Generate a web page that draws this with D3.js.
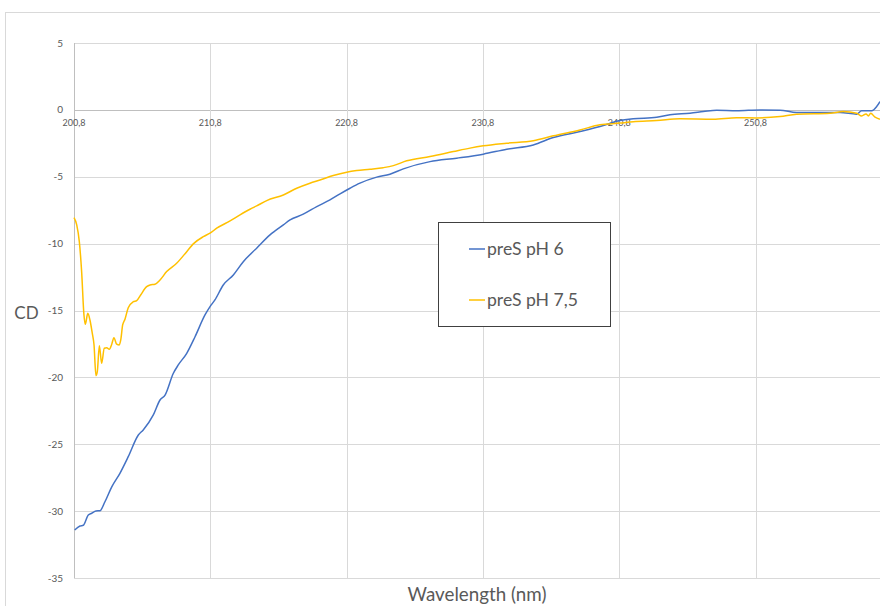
<!DOCTYPE html>
<html>
<head>
<meta charset="utf-8">
<script src="https://cdn.jsdelivr.net/npm/d3@7"></script>
<style>
  html, body { margin: 0; padding: 0; background: #fff; }
  svg { display: block; }
  text { font-family: Lato, "Open Sans", sans-serif; fill: #595959; }
</style>
</head>
<body>
<svg id="chart" width="880" height="606"></svg>
<script>
// ---- Data ----
const seriesNames = ["preS pH 6", "preS pH 7,5"];
const seriesColors = ["#4472C4", "#FFC000"];

const xTickValues = [200.8, 210.8, 220.8, 230.8, 240.8, 250.8, 260.8];
const xTickLabels = ["200,8", "210,8", "220,8", "230,8", "240,8", "250,8", "260,8"];
const yTickValues = [5, 0, -5, -10, -15, -20, -25, -30, -35];

// preS pH 6 : wavelength (nm)
const wl6 = [200.85, 201.24, 201.48, 201.85, 202.10, 202.41, 202.71, 203.07, 203.57, 204.17,
  204.78, 205.52, 205.88, 206.62, 207.11, 207.48, 208.09, 208.45, 209.07, 209.68,
  210.41, 210.78, 211.14, 211.75, 212.49, 213.22, 214.20, 215.18, 216.16, 216.65,
  217.62, 218.61, 219.58, 220.32, 221.05, 221.78, 223.01, 223.98, 224.96, 226.92,
  228.88, 230.83, 232.55, 234.50, 235.97, 237.92, 239.39, 240.86, 241.83, 243.55,
  244.53, 245.99, 246.97, 247.95, 249.42, 251.13, 252.60, 253.82, 255.04, 257.00,
  258.22, 258.59, 259.33, 259.69, 259.93];
// preS pH 6 : CD
const cd6 = [-31.41, -31.11, -31.06, -30.29, -30.16, -29.99, -29.97, -29.30, -28.18, -27.17,
  -25.93, -24.31, -23.93, -22.81, -21.69, -21.32, -19.69, -19.07, -18.20, -16.96,
  -15.33, -14.71, -14.21, -13.09, -12.34, -11.35, -10.34, -9.35, -8.60, -8.23,
  -7.80, -7.23, -6.73, -6.28, -5.86, -5.48, -5.03, -4.81, -4.41, -3.87,
  -3.61, -3.31, -2.94, -2.62, -2.07, -1.62, -1.25, -0.80, -0.67, -0.55,
  -0.37, -0.25, -0.13, -0.02, -0.07, 0.00, -0.02, -0.20, -0.20, -0.20,
  -0.32, -0.07, -0.07, 0.25, 0.62];

// preS pH 7,5 : wavelength (nm)
const wl75 = [200.80, 201.00, 201.19, 201.36, 201.53, 201.63, 201.81, 201.97, 202.14, 202.27,
  202.41, 202.51, 202.66, 202.83, 203.02, 203.20, 203.39, 203.57, 203.73, 203.93,
  204.12, 204.23, 204.37, 204.54, 204.78, 205.15, 205.40, 205.69, 206.13, 206.38,
  206.74, 207.11, 207.60, 208.33, 209.07, 209.55, 210.29, 210.78, 211.27, 212.25,
  212.98, 213.71, 214.20, 214.94, 216.16, 217.14, 218.11, 218.85, 219.82, 220.81,
  221.54, 222.52, 223.49, 224.23, 225.21, 226.92, 228.63, 229.85, 230.83, 232.55,
  234.50, 235.97, 237.92, 239.39, 240.86, 241.83, 243.55, 245.25, 247.70, 249.42,
  250.89, 252.60, 253.82, 256.27, 257.24, 258.22, 258.59, 258.91, 259.08, 259.25,
  259.57, 259.93];
// preS pH 7,5 : CD
const cd75 = [-8.06, -8.60, -9.85, -12.09, -15.33, -16.03, -15.21, -15.71, -16.70, -17.58,
  -19.87, -19.57, -17.63, -18.95, -17.82, -17.78, -17.90, -17.52, -17.03, -17.52,
  -17.58, -17.20, -16.08, -15.65, -14.79, -14.34, -14.26, -13.84, -13.22, -13.09,
  -13.04, -12.72, -12.09, -11.47, -10.60, -10.02, -9.48, -9.22, -8.85, -8.30,
  -7.85, -7.43, -7.18, -6.78, -6.36, -5.86, -5.48, -5.24, -4.91, -4.66,
  -4.54, -4.44, -4.32, -4.17, -3.81, -3.49, -3.12, -2.86, -2.69, -2.49,
  -2.30, -1.94, -1.50, -1.12, -0.99, -0.88, -0.80, -0.67, -0.70, -0.58,
  -0.60, -0.50, -0.32, -0.25, -0.13, -0.25, -0.45, -0.30, -0.45, -0.25,
  -0.55, -0.70];

const xTitle = "Wavelength (nm)";
const yTitle = "CD";

// ---- Layout ----
const W = 880;
const svg = d3.select("#chart");
const plot = { left: 74, top: 43, bottom: 578 };

const x = d3.scaleLinear().domain([200.8, 260.8]).range([plot.left, plot.left + 60 * 13.63]);
const y = d3.scaleLinear().domain([-35, 5]).range([plot.bottom, plot.top]);

// outer chart border
svg.append("rect")
  .attr("x", 5.5).attr("y", 12.5).attr("width", 900).attr("height", 620)
  .attr("fill", "none").attr("stroke", "#d9d9d9").attr("stroke-width", 1);

// horizontal gridlines
svg.append("g").selectAll("line").data(yTickValues).join("line")
  .attr("x1", plot.left).attr("x2", 900)
  .attr("y1", d => Math.round(y(d)) + 0.5).attr("y2", d => Math.round(y(d)) + 0.5)
  .attr("stroke", d => d === 0 ? "#bfbfbf" : "#d9d9d9").attr("stroke-width", 1);

// vertical gridlines
svg.append("g").selectAll("line").data(xTickValues).join("line")
  .attr("x1", d => Math.round(x(d)) + 0.5).attr("x2", d => Math.round(x(d)) + 0.5)
  .attr("y1", plot.top).attr("y2", plot.bottom)
  .attr("stroke", (d, i) => i === 0 ? "#bfbfbf" : "#d9d9d9").attr("stroke-width", 1);

// y tick labels
svg.append("g").selectAll("text").data(yTickValues).join("text")
  .attr("x", 63).attr("y", d => y(d))
  .attr("dy", "0.35em").attr("text-anchor", "end")
  .attr("font-size", 10)
  .text(d => d);

// x tick labels (below zero line), only those inside the visible window
const visibleX = xTickValues.map((v, i) => ({ v, label: xTickLabels[i] }))
  .filter(d => x(d.v) + 12 < W);
svg.append("g").selectAll("text").data(visibleX).join("text")
  .attr("x", d => x(d.v)).attr("y", y(0) + 13)
  .attr("dy", "0.35em").attr("text-anchor", "middle")
  .attr("font-size", 9)
  .text(d => d.label);

// lines
const series = [
  { name: seriesNames[0], color: seriesColors[0], pts: wl6.map((w, i) => [w, cd6[i]]) },
  { name: seriesNames[1], color: seriesColors[1], pts: wl75.map((w, i) => [w, cd75[i]]) }
];
const line = d3.line().x(d => x(d[0])).y(d => y(d[1])).curve(d3.curveMonotoneX);
svg.append("g").selectAll("path").data(series).join("path")
  .attr("d", d => line(d.pts))
  .attr("fill", "none")
  .attr("stroke", d => d.color)
  .attr("stroke-width", 1.5)
  .attr("stroke-linejoin", "round");

// axis titles
svg.append("text").attr("x", 26.5).attr("y", 313)
  .attr("dy", "0.35em").attr("text-anchor", "middle")
  .attr("font-size", 17).text(yTitle);
svg.append("text").attr("x", 477).attr("y", 594)
  .attr("dy", "0.35em").attr("text-anchor", "middle")
  .attr("font-size", 18.8).text(xTitle);

// legend
const lg = svg.append("g");
lg.append("rect").attr("x", 438.5).attr("y", 222.5).attr("width", 172).attr("height", 104)
  .attr("fill", "#fff").attr("stroke", "#404040").attr("stroke-width", 1);
const ly = [249, 300];
series.forEach((s, i) => {
  lg.append("line").attr("x1", 469).attr("x2", 485)
    .attr("y1", ly[i]).attr("y2", ly[i])
    .attr("stroke", s.color).attr("stroke-width", 1.5);
  lg.append("text").attr("x", 487).attr("y", ly[i])
    .attr("dy", "0.35em").attr("font-size", 17.6).text(s.name);
});
</script>
</body>
</html>
